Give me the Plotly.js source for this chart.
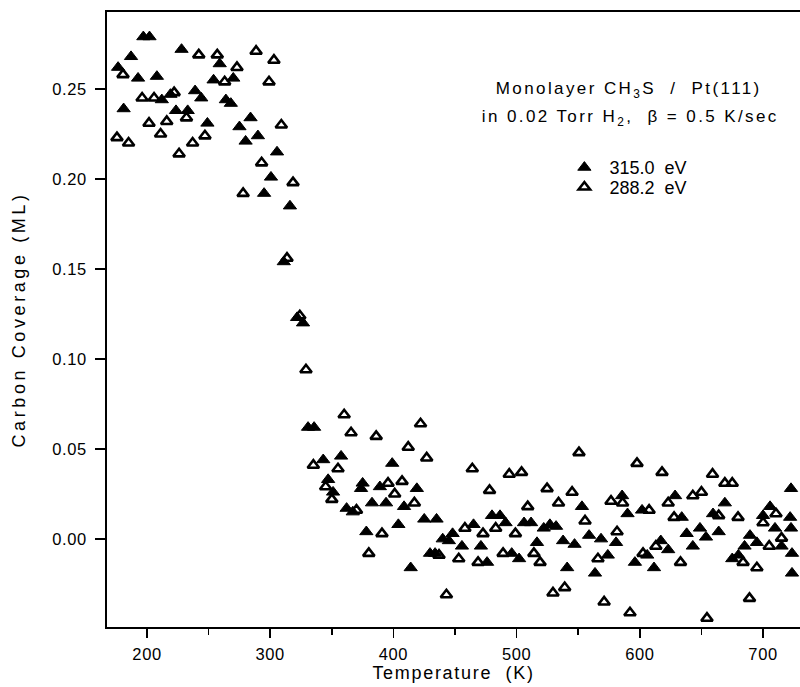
<!DOCTYPE html>
<html>
<head>
<meta charset="utf-8">
<script src="https://cdn.plot.ly/plotly-3.0.1.min.js"></script>
<style>
html,body{margin:0;padding:0;background:#fff;}
#chart{width:800px;height:687px;}
#chart .annotation-text{letter-spacing:2.4px;}
#chart .ytitle{letter-spacing:3.6px;}
#chart .xtitle{letter-spacing:1.7px;}
#chart .xtick text, #chart .ytick text{letter-spacing:0.6px;}
</style>
</head>
<body>
<div id="chart"></div>
<script>
// 315.0 eV (filled triangles): temperature (K), carbon coverage (ML)
const tempFilled = [176.5,181,187,192.7,197,202,208,212,219,223.5,228,233,239,244,249,254,259,264,268,270,275,280,284,290,295,300.6,305.5,311,316,321.8,326.6,330.7,335.6,343,347,351,357.5,362,367,373.7,375,378,382.6,389,394,399,404,408.6,414,419,425,429.7,433.8,435,440,445,448,455.6,465,471,476,480,486.5,491,496,502,506,511.7,516.5,522,527,532,537.7,541,547,553,558.8,563.6,568.5,574,580.7,585.6,590,596,601.8,606,611.5,617,623,628.6,634,638,643,648.8,653.7,659.4,664,669,675,680,685,689.4,695,700,705.7,709.7,715,722,722.7,722.7,723.5,723.5];
const covFilled = [0.262,0.239,0.268,0.256,0.279,0.279,0.257,0.244,0.247,0.238,0.272,0.238,0.249,0.245,0.231,0.255,0.264,0.244,0.242,0.256,0.229,0.221,0.234,0.224,0.192,0.201,0.215,0.154,0.185,0.123,0.120,0.062,0.062,0.044,0.033,0.026,0.046,0.017,0.015,0.028,0.031,0.004,0.020,0.029,0.020,0.042,0.008,0.018,-0.016,0.028,0.011,-0.008,-0.008,0.011,0.000,-0.001,0.003,-0.004,0.008,-0.004,-0.013,0.013,0.013,0.009,-0.008,-0.011,0.009,0.009,-0.002,0.006,0.008,0.007,-0.001,-0.016,-0.003,0.018,0.002,-0.019,0.000,-0.009,-0.002,0.024,0.014,-0.013,0.016,-0.009,-0.016,-0.001,-0.006,0.024,0.012,0.003,-0.004,0.006,0.001,0.014,0.004,0.020,-0.011,-0.009,-0.004,0.002,-0.002,0.013,0.018,0.006,-0.004,0.012,0.028,0.006,-0.008,-0.019];

// 288.2 eV (open triangles)
const tempOpen = [175.6,180.5,185,196,201.6,205.7,211,216,222,226,232,237,242,247,257,263,273,278,288.5,293,299,303,309,313.6,318.5,324,329,335,345,350,355,360,365.6,370,380,386,390.7,395.6,401,407,412,417,422,427,437,443,453,458,464,468.7,472.7,478,483,489,494,499,504,509,514,519,524.7,529.5,534,539,545,550.6,555.5,566,571,576.6,581.5,586,592,597.7,602.6,607.5,613,618,623,627.8,633,643,650,654.5,659,664,669,675,679.7,683.8,689,695,700,705,710.5,715];
const covOpen = [0.223,0.258,0.220,0.245,0.231,0.245,0.225,0.232,0.248,0.214,0.234,0.220,0.269,0.224,0.269,0.254,0.262,0.192,0.271,0.209,0.254,0.266,0.230,0.156,0.198,0.124,0.094,0.041,0.029,0.022,0.039,0.069,0.059,0.016,-0.008,0.057,0.003,0.031,0.025,0.032,0.051,0.020,0.064,0.045,-0.009,-0.031,-0.011,0.006,0.039,-0.013,0.003,0.027,0.006,-0.008,0.036,0.003,0.037,0.018,-0.008,-0.013,0.028,-0.030,0.020,-0.027,0.026,0.048,0.010,-0.011,-0.035,0.021,0.004,0.020,-0.041,0.042,-0.008,0.016,-0.004,0.037,0.020,0.012,-0.013,0.024,0.026,-0.044,0.036,0.013,0.031,0.031,0.012,-0.013,-0.033,-0.016,0.009,-0.004,0.014,0.0005];

const seriesNames = ['\u00A0315.0\u00A0\u00A0eV', '\u00A0288.2\u00A0\u00A0eV'];
const FONT = 'Liberation Sans, Arial, Helvetica, sans-serif';

const traces = [
  {x: tempFilled, y: covFilled, name: seriesNames[0], type: 'scatter', mode: 'markers', cliponaxis: false,
   legend: 'legend',
   marker: {symbol: 'triangle-up', size: 11.5, color: '#000', line: {color: '#000', width: 1}}},
  {x: tempOpen, y: covOpen, name: seriesNames[1], type: 'scatter', mode: 'markers', cliponaxis: false,
   legend: 'legend2',
   marker: {symbol: 'triangle-up-open', size: 10, color: '#000', line: {color: '#000', width: 2.6}}}
];

const legendFont = {family: FONT, size: 18, color: '#000'};
const layout = {
  width: 800, height: 687,
  margin: {l: 107, r: 0, t: 12, b: 60},
  paper_bgcolor: '#fff', plot_bgcolor: '#fff',
  font: {family: FONT, color: '#000', size: 16},
  showlegend: true,
  legend: {x: 0.66, y: 0.777, xanchor: 'left', yanchor: 'top', bgcolor: 'rgba(0,0,0,0)', font: legendFont, itemwidth: 30},
  legend2: {x: 0.66, y: 0.745, xanchor: 'left', yanchor: 'top', bgcolor: 'rgba(0,0,0,0)', font: legendFont, itemwidth: 30},
  xaxis: {range: [167.5, 730], tick0: 200, dtick: 100, ticks: 'outside', ticklen: 9, tickwidth: 1.5,
          tickcolor: '#000', minor: {dtick: 50, ticks: 'outside', ticklen: 6, tickwidth: 1.5, tickcolor: '#000'},
          showline: true, linewidth: 2, linecolor: '#000', mirror: true, showgrid: false, zeroline: false,
          tickfont: {family: FONT, size: 16.5, color: '#000'}, ticklabelstandoff: 2,
          title: {text: 'Temperature\u00A0\u00A0(K)', font: {family: FONT, size: 18, color: '#000'}, standoff: 0}},
  yaxis: {range: [-0.0489, 0.2928], tick0: 0, dtick: 0.05, tickformat: '.2f', ticks: 'outside', ticklen: 10,
          tickwidth: 1.5, tickcolor: '#000', showline: true, linewidth: 2, linecolor: '#000', mirror: false,
          showgrid: false, zeroline: false, ticklabelstandoff: 5,
          tickfont: {family: FONT, size: 16.5, color: '#000'},
          title: {text: 'Carbon Coverage (ML)', font: {family: FONT, size: 18, color: '#000'}, standoff: 24}},
  annotations: [
    {xref: 'paper', yref: 'paper', x: 0.753, y: 0.873, xanchor: 'center', yanchor: 'middle', showarrow: false,
     text: 'Monolayer CH<sub>3</sub>S\u00A0\u00A0/\u00A0\u00A0Pt(111)', font: {family: FONT, size: 17, color: '#000'}},
    {xref: 'paper', yref: 'paper', x: 0.756, y: 0.828, xanchor: 'center', yanchor: 'middle', showarrow: false,
     text: 'in 0.02 Torr H<sub>2</sub>,\u00A0\u00A0\u03B2 = 0.5 K/sec', font: {family: FONT, size: 17, color: '#000'}}
  ]
};

Plotly.newPlot('chart', traces, layout, {displayModeBar: false, staticPlot: true});
</script>
</body>
</html>
